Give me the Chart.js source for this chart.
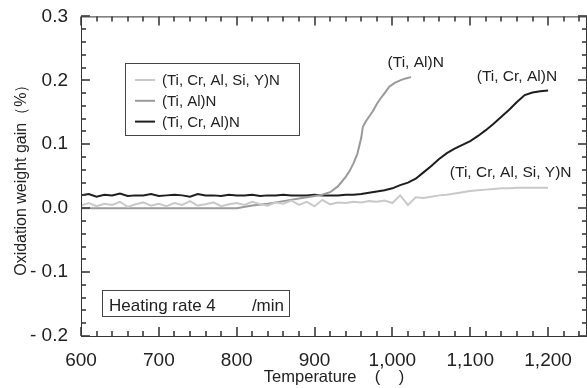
<!DOCTYPE html>
<html>
<head>
<meta charset="utf-8">
<script src="https://cdn.jsdelivr.net/npm/chart.js@4"></script>
<style>
  html, body { margin: 0; padding: 0; background: #fff; }
  #wrap { width: 587px; height: 388px; }
</style>
</head>
<body>
<div id="wrap"><canvas id="oxChart"></canvas></div>
<script>
// tick values and labels
var xTickValues = [600, 700, 800, 900, 1000, 1100, 1200];
var xTickLabels = ['600', '700', '800', '900', '1,000', '1,100', '1,200'];
var yTickValues = [0.3, 0.2, 0.1, 0.0, -0.1, -0.2];
var yTickLabels = ['0.3', '0.2', '0.1', '0.0', '- 0.1', '- 0.2'];

var seriesNames = ['(Ti, Cr, Al, Si, Y)N', '(Ti, Al)N', '(Ti, Cr, Al)N'];

// (Ti, Cr, Al, Si, Y)N
var tcasyTemps = [600, 610, 620, 630, 640, 650, 660, 670, 680, 690, 700, 710, 720, 730, 740, 750, 760, 770, 780, 790,
  800, 810, 820, 830, 840, 850, 860, 870, 880, 890, 900, 910, 920, 930, 940, 950, 960, 970, 980, 990,
  1000, 1010, 1020, 1030, 1040, 1050, 1060, 1070, 1080, 1090, 1100, 1110, 1120, 1130, 1140, 1150, 1160, 1170, 1180, 1190, 1200];
var tcasyGain = [0.004, 0.008, 0.003, 0.007, 0.005, 0.010, 0.002, 0.006, 0.009, 0.004, 0.007, 0.003, 0.008, 0.005, 0.011, 0.004, 0.006, 0.009, 0.003, 0.006,
  0.008, 0.005, 0.010, 0.006, 0.004, 0.009, 0.007, 0.012, 0.005, 0.010, 0.003, 0.013, 0.006, 0.009, 0.008, 0.010, 0.009, 0.011, 0.010, 0.012,
  0.008, 0.020, 0.005, 0.017, 0.016, 0.018, 0.020, 0.021, 0.023, 0.025, 0.027, 0.028, 0.029, 0.030, 0.031, 0.031, 0.032, 0.032, 0.032, 0.032, 0.032];

// (Ti, Al)N
var taTemps = [600, 650, 700, 750, 800, 820, 840, 860, 880, 900, 910, 920, 930, 940, 945, 950, 955, 960, 962, 966,
  970, 975, 980, 985, 990, 996, 1003, 1010, 1017, 1024];
var taGain = [0.000, 0.000, 0.000, 0.000, 0.000, 0.004, 0.007, 0.011, 0.015, 0.019, 0.021, 0.025, 0.034, 0.049, 0.058, 0.070, 0.085, 0.110, 0.127, 0.136,
  0.143, 0.152, 0.163, 0.172, 0.180, 0.190, 0.196, 0.200, 0.203, 0.205];

// (Ti, Cr, Al)N
var tcaTemps = [600, 610, 620, 630, 640, 650, 660, 670, 680, 690, 700, 710, 720, 730, 740, 750, 760, 770, 780, 790,
  800, 810, 820, 830, 840, 850, 860, 870, 880, 890, 900, 910, 920, 930, 940, 950, 960, 970, 980, 990,
  1000, 1010, 1020, 1030, 1040, 1050, 1060, 1070, 1080, 1090, 1100, 1110, 1120, 1130, 1140, 1150, 1160, 1170, 1180, 1190, 1200];
var tcaGain = [0.020, 0.022, 0.018, 0.021, 0.020, 0.023, 0.019, 0.020, 0.020, 0.022, 0.019, 0.020, 0.021, 0.020, 0.018, 0.022, 0.020, 0.020, 0.019, 0.021,
  0.020, 0.020, 0.021, 0.019, 0.020, 0.020, 0.021, 0.020, 0.020, 0.020, 0.021, 0.020, 0.020, 0.020, 0.021, 0.021, 0.022, 0.024, 0.026, 0.028,
  0.031, 0.036, 0.040, 0.046, 0.056, 0.066, 0.077, 0.086, 0.093, 0.099, 0.105, 0.113, 0.122, 0.132, 0.143, 0.154, 0.166, 0.177, 0.181, 0.183, 0.184];

// minor tick steps (major every 100 / 0.1)
var xMinorTicks = [];
for (var mt = 600; mt <= 1250; mt += 20) xMinorTicks.push(mt);
var yMinorTicks = [];
for (var mk = -10; mk <= 15; mk++) yMinorTicks.push(mk);

function pts(xs, ys) {
  return xs.map(function (x, i) { return { x: x, y: ys[i] }; });
}

var FONT = 'Liberation Sans, Arial, sans-serif';

function seg(ctx, x1, y1, x2, y2) {
  ctx.beginPath();
  ctx.moveTo(x1, y1);
  ctx.lineTo(x2, y2);
  ctx.stroke();
}

// frame, inward ticks, legend box, labels
var decorations = {
  id: 'decorations',
  afterDraw: function (chart) {
    var ctx = chart.ctx;
    var a = chart.chartArea;
    var xs = chart.scales.x, ys = chart.scales.y;
    ctx.save();
    ctx.strokeStyle = '#333';
    ctx.lineWidth = 1;
    ctx.strokeRect(a.left + 0.5, a.top + 0.5, a.right - a.left - 1, a.bottom - a.top);

    ctx.strokeStyle = '#3a3a3a';
    ctx.lineWidth = 1.6;
    xMinorTicks.forEach(function (t) {
      var px = Math.round(xs.getPixelForValue(t));
      var len = (t % 100 === 0) ? 9 : 5;
      seg(ctx, px, a.bottom, px, a.bottom - len);
      seg(ctx, px, a.top, px, a.top + len);
    });
    yMinorTicks.forEach(function (k) {
      var py = Math.round(ys.getPixelForValue(k * 0.02));
      var len = (Math.abs(k) % 5 === 0) ? 9 : 5;
      seg(ctx, a.left, py, a.left + len, py);
      seg(ctx, a.right, py, a.right - len, py);
    });

    // legend
    var ds = chart.data.datasets;
    ctx.fillStyle = '#fff';
    ctx.fillRect(125, 63, 174, 72);
    ctx.strokeStyle = '#444';
    ctx.lineWidth = 1;
    ctx.strokeRect(125.5, 63.5, 174, 72);
    ctx.font = '15px ' + FONT;
    ctx.textBaseline = 'middle';
    ctx.textAlign = 'left';
    for (var i = 0; i < ds.length; i++) {
      var ly = 80 + i * 20.8;
      ctx.strokeStyle = ds[i].borderColor;
      ctx.lineWidth = 2;
      seg(ctx, 135, ly, 155, ly);
      ctx.fillStyle = '#222';
      ctx.fillText(ds[i].label, 162, ly + 1);
    }

    // curve labels
    ctx.font = '15.5px ' + FONT;
    ctx.textAlign = 'center';
    ctx.fillStyle = '#222';
    ctx.fillText(seriesNames[1], xs.getPixelForValue(1030), ys.getPixelForValue(0.227));
    ctx.fillText(seriesNames[2], xs.getPixelForValue(1160), ys.getPixelForValue(0.205));
    ctx.fillText(seriesNames[0], xs.getPixelForValue(1152), ys.getPixelForValue(0.055));

    // heating rate box
    ctx.lineWidth = 1;
    ctx.strokeStyle = '#444';
    ctx.strokeRect(102.5, 290.5, 187, 26);
    ctx.font = '17px ' + FONT;
    ctx.textBaseline = 'alphabetic';
    ctx.textAlign = 'left';
    ctx.fillText('Heating rate 4', 109, 311);
    ctx.textAlign = 'right';
    ctx.fillText('/min', 284, 311);
    ctx.restore();
  }
};

new Chart(document.getElementById('oxChart'), {
  type: 'line',
  data: {
    datasets: [
      { label: seriesNames[0], data: pts(tcasyTemps, tcasyGain), borderColor: '#c9c9c9', borderWidth: 2 },
      { label: seriesNames[1], data: pts(taTemps, taGain), borderColor: '#9a9a9a', borderWidth: 2 },
      { label: seriesNames[2], data: pts(tcaTemps, tcaGain), borderColor: '#1e1e1e', borderWidth: 2 }
    ]
  },
  options: {
    responsive: true,
    maintainAspectRatio: false,
    animation: false,
    elements: { point: { radius: 0 }, line: { tension: 0 } },
    layout: { padding: { top: 16, right: 0, left: 0, bottom: 0 } },
    plugins: { legend: { display: false }, tooltip: { enabled: false } },
    scales: {
      x: {
        type: 'linear', min: 600, max: 1250,
        afterBuildTicks: function (s) { s.ticks = xTickValues.map(function (v) { return { value: v }; }); },
        afterFit: function (s) { s.height = 52; },
        grid: { display: false },
        border: { display: false },
        ticks: {
          color: '#222', padding: 5, maxRotation: 0, autoSkip: false,
          font: { family: FONT, size: 19 },
          callback: function (v, i) { return xTickLabels[i]; }
        },
        title: { display: true, text: 'Temperature    (    )', color: '#222', font: { family: FONT, size: 16.5 }, padding: { top: 0, bottom: 1 } }
      },
      y: {
        type: 'linear', min: -0.2, max: 0.3,
        afterBuildTicks: function (s) { s.ticks = yTickValues.map(function (v) { return { value: v }; }); },
        afterFit: function (s) { s.width = 81; },
        grid: { display: false },
        border: { display: false },
        ticks: {
          color: '#222', padding: 5, autoSkip: false,
          font: { family: FONT, size: 19 },
          callback: function (v, i) { return yTickLabels[i]; }
        },
        title: { display: true, text: 'Oxidation weight gain（%）', color: '#222', font: { family: FONT, size: 16 }, padding: { top: 12, bottom: 0 } }
      }
    }
  },
  plugins: [decorations]
});
</script>
</body>
</html>
